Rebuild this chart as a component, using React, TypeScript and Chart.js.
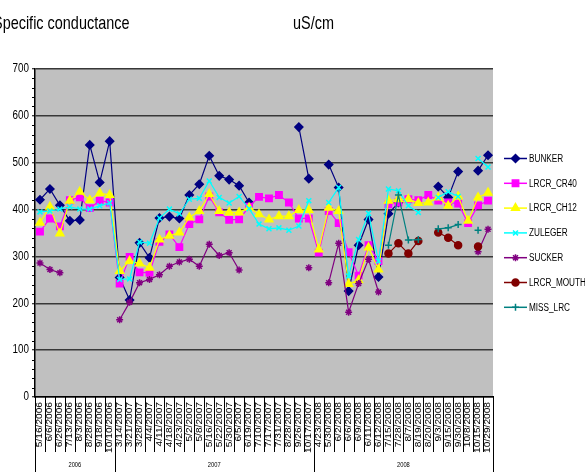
import React, { useEffect, useRef } from 'react';
import { Chart, registerables } from 'chart.js';
import { drawPoint } from 'chart.js/helpers';

Chart.register(...registerables);

const categories = [
  '5/16/2006', '6/6/2006', '6/26/2006', '7/13/2006', '8/3/2006', '8/28/2006', '9/18/2006', '10/10/2006',
  '3/14/2007', '3/21/2007', '3/28/2007', '4/4/2007', '4/11/2007', '4/18/2007', '4/23/2007', '5/2/2007',
  '5/8/2007', '5/16/2007', '5/22/2007', '5/30/2007', '6/5/2007', '6/19/2007', '7/10/2007', '7/17/2007',
  '7/31/2007', '8/28/2007', '9/26/2007', '10/17/2007',
  '4/23/2008', '5/30/2008', '6/2/2008', '6/6/2008', '6/9/2008', '6/11/2008', '6/12/2008', '7/15/2008',
  '7/28/2008', '8/7/2008', '8/19/2008', '8/20/2008', '9/3/2008', '9/15/2008', '9/30/2008', '10/8/2008',
  '10/15/2008', '10/29/2008',
];

const bunker = [
  421, 444, 409, 376, 378, 538, 458, 546,
  255, 207, 329, 297, 382, 385, 381, 431, 454, 515, 472, 464, 451, 415, null, null, null, null, 576, 466,
  null, 496, 447, 226, 324, 379, 256, 391, 415, null, null, null, 449, 426, 481, null, 483, 516,
];
const lrcrCr40 = [
  353, 381, 364, 420, 426, 403, 419, 415,
  242, 299, 266, 265, 331, 347, 320, 369, 379, 428, 394, 378, 379, 406, 427, 424, 431, 415, 381, 381,
  308, 397, 371, 309, 259, 324, 290, 411, 415, 422, 420, 431, 419, 415, 413, 371, 409, 419,
];
const lrcrCh12 = [
  372, 406, 349, 419, 438, 420, 435, 431,
  269, 290, 285, 276, 336, 344, 351, 383, 397, 433, 397, 394, 394, 404, 390, 379, 386, 386, 399, 399,
  315, 404, 397, 241, 249, 319, 272, 419, 422, 422, 414, 415, 426, 408, 428, 376, 426, 436,
];
const zuleger = [
  395, 397, 401, 406, 401, 401, 408, 414,
  251, 252, 331, 328, 382, 401, 391, 422, 424, 461, 426, 414, 428, 402, 369, 359, 361, 356, 365, 419,
  null, 415, 447, 258, 336, 392, 290, 444, 440, 408, 394, null, 426, 438, 428, null, 509, 491,
];
const sucker = [
  286, 272, 265, null, null, null, null, null,
  165, 202, 244, 251, 261, 279, 288, 294, 279, 326, 302, 308, 271, null, null, null, null, null, null, 276,
  null, 244, 328, 181, 242, 294, 224, null, null, null, null, null, null, null, null, null, 310, 358,
];
const lrcrMouth = [
  null, null, null, null, null, null, null, null,
  null, null, null, null, null, null, null, null, null, null, null, null, null, null, null, null, null, null, null, null,
  null, null, null, null, null, null, null, 306, 328, 306, 333, null, 351, 340, 324, null, 321, null,
];
const missLrc = [
  null, null, null, null, null, null, null, null,
  null, null, null, null, null, null, null, null, null, null, null, null, null, null, null, null, null, null, null, null,
  null, null, null, null, null, null, null, 324, 431, 335, 336, null, 359, 361, 368, null, 356, null,
];

const seriesNames = ['BUNKER', 'LRCR_CR40', 'LRCR_CH12', 'ZULEGER', 'SUCKER', 'LRCR_MOUTH', 'MISS_LRC'];
const seriesValues = [bunker, lrcrCr40, lrcrCh12, zuleger, sucker, lrcrMouth, missLrc];
const seriesColors = ['#000080', '#FF00FF', '#FFFF00', '#00FFFF', '#800080', '#800000', '#008080'];
const seriesPointStyles = ['rectRot', 'rect', 'triangle', 'crossRot', 'star', 'circle', 'cross'];
const seriesPointRadii = [4, 4.5, 4.5, 3.5, 3.5, 3.5, 3.5];

const yMin = 0;
const yMax = 700;
const yStep = 100;
const yMinorStep = 20;

const titleText = 'Specific conductance';
const unitText = 'uS/cm';

const FONT = "'Liberation Sans', Arial, sans-serif";

function fillScaled(ctx: CanvasRenderingContext2D, text: string, x: number, y: number, sx: number) {
  ctx.save();
  ctx.translate(x, y);
  ctx.scale(sx, 1);
  ctx.fillText(text, 0, 0);
  ctx.restore();
}

const decorPlugin = {
  id: 'decor',
  beforeDraw(chart: any) {
    const { ctx, chartArea: a } = chart;
    ctx.save();
    ctx.fillStyle = '#FFFFFF';
    ctx.fillRect(0, 0, chart.width, chart.height);
    ctx.fillStyle = '#C0C0C0';
    ctx.fillRect(a.left, a.top, a.right - a.left, a.bottom - a.top);
    ctx.restore();
  },
  afterDraw(chart: any) {
    const { ctx, chartArea: a, scales } = chart;
    const xs = scales.x;
    const ys = scales.y;
    ctx.save();
    ctx.strokeStyle = '#000';
    ctx.lineWidth = 1;

    // minor y ticks
    for (let v = yMin; v <= yMax; v += yMinorStep) {
      if (v % yStep === 0) continue;
      const y = Math.round(ys.getPixelForValue(v)) + 0.5;
      ctx.beginPath();
      ctx.moveTo(a.left - 3, y);
      ctx.lineTo(a.left, y);
      ctx.stroke();
    }

    // y tick labels
    ctx.fillStyle = '#000';
    ctx.font = `12px ${FONT}`;
    ctx.textAlign = 'right';
    ctx.textBaseline = 'middle';
    for (let v = yMin; v <= yMax; v += yStep) {
      fillScaled(ctx, String(v), a.left - 6, ys.getPixelForValue(v), 0.82);
    }

    // x category labels (rotated, reading upward)
    ctx.font = `9px ${FONT}`;
    ctx.textAlign = 'right';
    ctx.textBaseline = 'middle';
    categories.forEach((c, i) => {
      ctx.save();
      ctx.translate(xs.getPixelForValue(i), a.bottom + 5);
      ctx.rotate(-Math.PI / 2);
      ctx.scale(1.13, 0.95);
      ctx.fillText(c, 0, 0);
      ctx.restore();
    });

    // category separators & year groups
    const years = categories.map((c) => c.split('/')[2]);
    const bounds: number[] = [];
    for (let k = 0; k <= categories.length; k++) {
      const x = Math.round(xs.getPixelForValue(k - 0.5)) + 0.5;
      const isYear = k === 0 || k === categories.length || years[k] !== years[k - 1];
      if (isYear) bounds.push(k);
      ctx.beginPath();
      ctx.moveTo(x, a.bottom);
      ctx.lineTo(x, isYear ? chart.height : a.bottom + 55);
      ctx.stroke();
    }
    ctx.font = `7px ${FONT}`;
    ctx.textAlign = 'center';
    ctx.textBaseline = 'middle';
    for (let g = 0; g < bounds.length - 1; g++) {
      const x0 = xs.getPixelForValue(bounds[g] - 0.5);
      const x1 = xs.getPixelForValue(bounds[g + 1] - 0.5);
      fillScaled(ctx, years[bounds[g]], (x0 + x1) / 2, a.bottom + 68, 0.82);
    }

    // title & unit
    ctx.font = `19px ${FONT}`;
    ctx.textAlign = 'left';
    ctx.textBaseline = 'alphabetic';
    fillScaled(ctx, titleText, -7, 29, 0.76);
    fillScaled(ctx, unitText, 293, 29, 0.76);

    // legend
    const lx0 = a.right + 11;
    const lx1 = a.right + 34;
    const ly0 = 158.5;
    const lgap = 24.8;
    ctx.font = `10px ${FONT}`;
    ctx.textBaseline = 'middle';
    seriesNames.forEach((name, i) => {
      const y = ly0 + i * lgap;
      ctx.strokeStyle = seriesColors[i];
      ctx.fillStyle = seriesColors[i];
      ctx.lineWidth = 1.5;
      ctx.beginPath();
      ctx.moveTo(lx0, y);
      ctx.lineTo(lx1, y);
      ctx.stroke();
      drawPoint(ctx, { pointStyle: seriesPointStyles[i], radius: seriesPointRadii[i], rotation: 0, borderWidth: 1.5 } as any, (lx0 + lx1) / 2, y);
      ctx.fillStyle = '#000';
      fillScaled(ctx, name, lx1 + 2, y + 0.5, 0.82);
    });
    ctx.restore();
  },
};

export default function App() {
  const canvasRef = useRef<HTMLCanvasElement | null>(null);

  useEffect(() => {
    const canvas = canvasRef.current;
    if (!canvas) return;
    const chart = new Chart(canvas, {
      type: 'line',
      data: {
        labels: categories,
        datasets: seriesNames.map((name, i) => ({
          label: name,
          data: seriesValues[i],
          borderColor: seriesColors[i],
          backgroundColor: seriesColors[i],
          borderWidth: 1.2,
          pointStyle: seriesPointStyles[i] as any,
          pointRadius: seriesPointRadii[i],
          pointBackgroundColor: seriesColors[i],
          pointBorderColor: seriesColors[i],
          pointBorderWidth: 1.5,
          tension: 0,
          spanGaps: false,
          fill: false,
          order: seriesNames.length - i,
        })),
      },
      options: {
        responsive: false,
        animation: false,
        devicePixelRatio: 1,
        layout: { padding: { left: 0, top: 69, right: 92, bottom: 0 } },
        plugins: {
          legend: { display: false },
          tooltip: { enabled: false },
          title: { display: false },
        },
        scales: {
          x: {
            type: 'category',
            offset: true,
            ticks: { display: false, autoSkip: false },
            grid: { display: false, drawTicks: false },
            border: { display: true, color: '#000', width: 1.5 },
            afterFit: (s: any) => { s.height = 75; },
          },
          y: {
            min: yMin,
            max: yMax,
            ticks: { stepSize: yStep, display: false },
            grid: { color: '#383838', lineWidth: 1.5, tickLength: 3, tickColor: '#000', tickWidth: 1 },
            border: { display: true, color: '#000', width: 1.5 },
            afterFit: (s: any) => { s.width = 35; },
          },
        },
      },
      plugins: [decorPlugin],
    });
    return () => chart.destroy();
  }, []);

  return (
    <div style={{ position: 'fixed', left: 0, top: 0, width: 585, height: 472, background: '#fff' }}>
      <canvas ref={canvasRef} width={585} height={472} style={{ display: 'block' }} />
    </div>
  );
}
